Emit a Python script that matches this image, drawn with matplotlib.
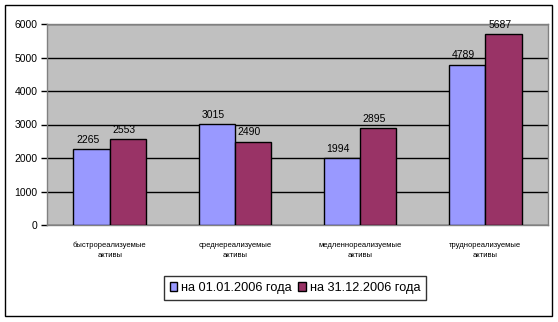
import matplotlib
matplotlib.use("Agg")
import matplotlib.pyplot as plt
import numpy as np
from matplotlib.patches import Rectangle

categories = ["быстрореализуемые\nактивы", "среднереализуемые\nактивы",
              "медленнореализуемые\nактивы", "труднореализуемые\nактивы"]
series_names = ["на 01.01.2006 года", "на 31.12.2006 года"]
start_vals = [2265, 3015, 1994, 4789]
end_vals = [2553, 2490, 2895, 5687]
yticks = [0, 1000, 2000, 3000, 4000, 5000, 6000]

plt.rcParams['font.family'] = ['Liberation Sans', 'DejaVu Sans']

W, H = 558, 322
fig = plt.figure(figsize=(W/100, H/100), dpi=100)
fig.patch.set_facecolor('white')
# outer border
fig.patches.append(Rectangle((5/W, 1-316/H), 547/W, 311/H, transform=fig.transFigure,
                             fill=False, edgecolor='black', lw=1.0))

left, right, top, bottom = 47, 548, 24, 225
ax = fig.add_axes([left/W, 1-bottom/H, (right-left)/W, (bottom-top)/H])
ax.set_facecolor('#C0C0C0')
x = np.arange(len(categories))
bw = 0.29
b1 = ax.bar(x - bw/2, start_vals, bw, color='#9999FF', edgecolor='black', lw=1.0,
            label=series_names[0], zorder=3)
b2 = ax.bar(x + bw/2, end_vals, bw, color='#993366', edgecolor='black', lw=1.0,
            label=series_names[1], zorder=3)
for bars in (b1, b2):
    for r in bars:
        ax.text(r.get_x() + r.get_width()/2 - 0.03, r.get_height() + 130, f"{int(r.get_height())}",
                ha='center', va='bottom', fontsize=7.5, zorder=4)
ax.set_xlim(-0.5, 3.5)
ax.set_ylim(0, 6000)
ax.set_yticks(yticks)
ax.set_yticklabels([str(v) for v in yticks], fontsize=7.5)
ax.yaxis.grid(True, color='black', lw=1.0, zorder=1)
ax.set_axisbelow(True)
ax.tick_params(axis='y', length=4, width=1, color='black', pad=3)
ax.set_xticks(x)
ax.set_xticklabels(categories, fontsize=5.5, linespacing=1.6)
ax.tick_params(axis='x', length=0, pad=12)
for s in ax.spines.values():
    s.set_color('#808080')
    s.set_linewidth(1.0)

leg = fig.legend(handles=[b1, b2], labels=series_names, loc='center',
                 bbox_to_anchor=((166+424)/2/W, 1-288/H), ncol=2, fontsize=9.2,
                 frameon=True, fancybox=False, edgecolor='black', handlelength=0.6,
                 handleheight=0.6, handletextpad=0.3, columnspacing=0.5, borderpad=0.45,
                 borderaxespad=0)
leg.get_frame().set_linewidth(1.0)

fig.savefig("out.png", dpi=100)
